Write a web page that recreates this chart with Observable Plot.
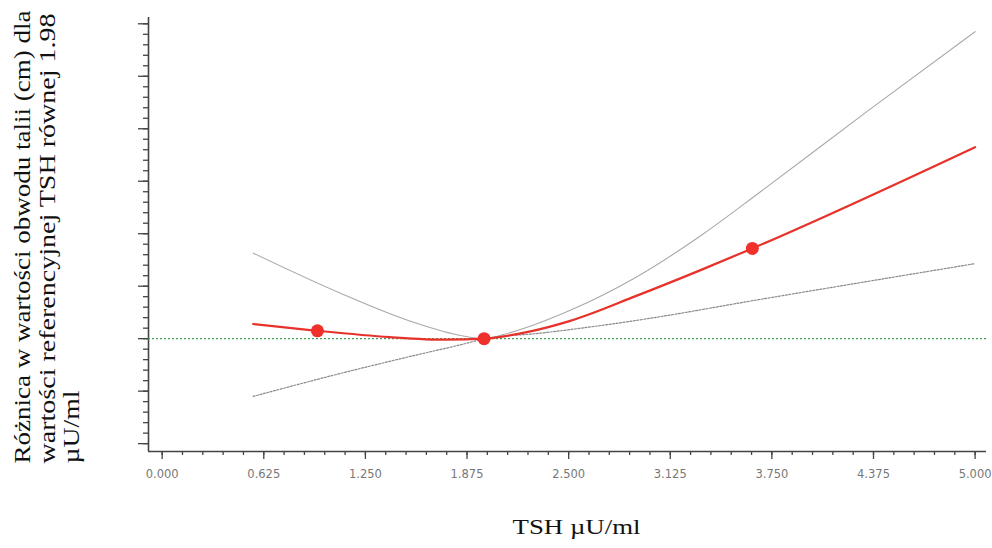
<!DOCTYPE html>
<html><head><meta charset="utf-8">
<script src="https://cdn.jsdelivr.net/npm/d3@7"></script>
<script src="https://cdn.jsdelivr.net/npm/@observablehq/plot@0.6"></script>
<style>html,body{margin:0;padding:0;background:#fff;} #chart{width:992px;height:548px;}</style>
</head><body><div id="chart"></div>
<script>
// Estimate (red line) – TSH vs difference in waist circumference
const estX = [0.56, 0.955, 1.40, 1.75, 1.98, 2.25, 2.51, 2.92, 3.33, 3.63, 5.00];
const estY = [0.28, 0.15, 0.03, -0.02, 0.00, 0.13, 0.34, 0.82, 1.33, 1.72, 3.65];
// Upper confidence limit (grey)
const upX = [0.56, 1.10, 1.51, 1.82, 1.98, 2.10, 2.51, 2.92, 3.33, 3.68, 4.34, 5.00];
const upY = [1.63, 0.86, 0.35, 0.07, 0.00, 0.08, 0.54, 1.18, 2.00, 2.80, 4.34, 5.85];
// Lower confidence limit (grey dotted)
const loX = [0.56, 1.10, 1.51, 1.92, 1.98, 2.31, 2.92, 3.70, 5.00];
const loY = [-1.10, -0.66, -0.35, -0.05, 0.00, 0.10, 0.35, 0.76, 1.43];
// Marked points on the estimate
const dotX = [0.955, 1.98, 3.63];
const dotY = [0.15, 0.00, 1.72];
// Axis ticks
const xTicks = [0, 0.625, 1.25, 1.875, 2.5, 3.125, 3.75, 4.375, 5];
const xTickLabels = ["0.000", "0.625", "1.250", "1.875", "2.500", "3.125", "3.750", "4.375", "5.000"];
const yTicks = [-2, -1, 0, 1, 2, 3, 4, 5, 6];
const yLabelLines = ["Różnica w wartości obwodu talii (cm) dla", "wartości referencyjnej TSH równej 1.98", "µU/ml"];
const xLabel = "TSH µU/ml";

const xMinor = d3.range(0, 5.0001, 0.125);
const yMinor = d3.range(-2, 6.0001, 0.2);

const est = estX.map((x, i) => ({x, y: estY[i]}));
const up = upX.map((x, i) => ({x, y: upY[i]}));
const lo = loX.map((x, i) => ({x, y: loY[i]}));
const dots = dotX.map((x, i) => ({x, y: dotY[i]}));

const lineBase = [29, 54, 78];
const lineLen = [453, 450, 73];

const plot = Plot.plot({
  width: 992, height: 548,
  marginLeft: 148, marginRight: 6, marginTop: 17, marginBottom: 97,
  style: {background: "#fff", fontFamily: "DejaVu Sans, sans-serif"},
  x: {domain: [-0.084, 5.07]},
  y: {domain: [-2.15, 6.12]},
  marks: [
    Plot.axisY(yMinor, {anchor: "left", tickSize: 5, tickFormat: () => "", stroke: "#444", strokeWidth: 1.3, label: null}),
    Plot.axisY(yTicks, {anchor: "left", tickSize: 10, tickFormat: () => "", stroke: "#444", strokeWidth: 1.3, label: null}),
    Plot.axisX(xMinor, {anchor: "bottom", tickSize: 4, tickFormat: () => "", stroke: "#444", strokeWidth: 1.3, label: null}),
    Plot.axisX(xTicks, {anchor: "bottom", tickSize: 8, tickPadding: 10, tickFormat: d => xTickLabels[xTicks.indexOf(d)], stroke: "#444", strokeWidth: 1.3, fill: "#777", fontSize: 11.5, label: null}),
    Plot.ruleX([-0.084], {stroke: "#444", strokeWidth: 1.6}),
    Plot.ruleY([-2.15], {stroke: "#444", strokeWidth: 1.6}),
    Plot.ruleY([0], {stroke: "#3f9e55", strokeWidth: 1.2, strokeDasharray: "2,2"}),
    Plot.line(up, {x: "x", y: "y", stroke: "#a9a9a9", strokeWidth: 1.1, curve: "monotone-x"}),
    Plot.line(lo, {x: "x", y: "y", stroke: "#8a8a8a", strokeWidth: 1.2, strokeDasharray: "2,1.5", curve: "monotone-x"}),
    Plot.line(est, {x: "x", y: "y", stroke: "#e8312a", strokeWidth: 2.2, curve: "monotone-x"}),
    Plot.dot(dots, {x: "x", y: "y", r: 6.5, fill: "#f0302a", stroke: "none"}),
    ...yLabelLines.map((t, i) => Plot.text([t], {
      text: d => d, frameAnchor: "bottom-left", dx: lineBase[i] - 148, dy: 463 - 451,
      rotate: -90, textAnchor: "start", lineAnchor: "bottom",
      fontFamily: "Liberation Serif", fontSize: 24, fill: "#111"
    })),
    Plot.text([xLabel], {
      text: d => d, frameAnchor: "bottom", dx: 576 - 567, dy: 533 - 451,
      textAnchor: "middle", lineAnchor: "bottom",
      fontFamily: "Liberation Serif", fontSize: 21, fill: "#111"
    })
  ]
});

const svg = d3.select(plot);
yLabelLines.forEach((t, i) => {
  svg.selectAll("text").filter(function() { return this.textContent === t; })
    .attr("textLength", lineLen[i]).attr("lengthAdjust", "spacingAndGlyphs");
});
svg.selectAll("text").filter(function() { return this.textContent === xLabel; })
  .attr("textLength", 128).attr("lengthAdjust", "spacingAndGlyphs");

document.getElementById("chart").appendChild(plot);
</script>
</body></html>
